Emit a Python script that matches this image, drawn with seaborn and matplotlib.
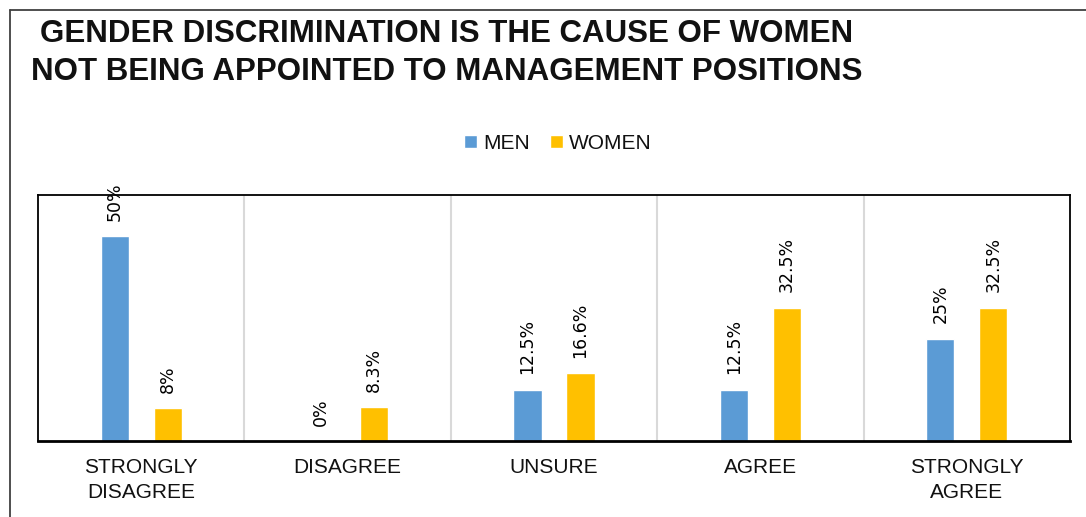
import pandas as pd
import matplotlib
matplotlib.use("Agg")
import matplotlib.pyplot as plt
import seaborn as sns
from matplotlib.lines import Line2D

# Chart data
categories = ["STRONGLY\nDISAGREE", "DISAGREE", "UNSURE", "AGREE", "STRONGLY\nAGREE"]
groups = ["MEN", "WOMEN"]
men_values = [50, 0, 12.5, 12.5, 25]
women_values = [8, 8.3, 16.6, 32.5, 32.5]
men_labels = ["50%", "0%", "12.5%", "12.5%", "25%"]
women_labels = ["8%", "8.3%", "16.6%", "32.5%", "32.5%"]
colors = ["#5B9BD5", "#FFC000"]
title = "GENDER DISCRIMINATION IS THE CAUSE OF WOMEN\nNOT BEING APPOINTED TO MANAGEMENT POSITIONS"

df = pd.DataFrame({
    "response": categories * 2,
    "gender": [groups[0]] * len(categories) + [groups[1]] * len(categories),
    "pct": men_values + women_values,
})

sns.set_style("white")
plt.rcParams["font.family"] = ["Liberation Sans", "DejaVu Sans"]
plt.rcParams["text.color"] = "black"
plt.rcParams["xtick.color"] = "black"

fig = plt.figure(figsize=(10.86, 5.17), dpi=100)
ax = fig.add_axes([38 / 1086, 76 / 517, 1032 / 1086, 246 / 517])

sns.barplot(data=df, x="response", y="pct", hue="gender", palette=colors,
            saturation=1, width=0.514, gap=0.47, ax=ax, legend=True)

ax.set_ylim(0, 60)
ax.set_xlim(-0.5, len(categories) - 0.5)
ax.set_xlabel("")
ax.set_ylabel("")
ax.set_yticks([])

# category separators
for i in range(len(categories) - 1):
    ax.axvline(i + 0.5, color="#D9D9D9", lw=1.5, zorder=0)

for side in ["left", "right", "top"]:
    ax.spines[side].set_color("black")
    ax.spines[side].set_linewidth(1.3)
ax.spines["bottom"].set_color("black")
ax.spines["bottom"].set_linewidth(2)

ax.tick_params(axis="x", length=0, pad=12, labelcolor="#111111")
for lbl in ax.get_xticklabels():
    lbl.set_fontsize(15)
    lbl.set_linespacing(1.45)

# data labels
for cont, labs in zip(ax.containers, [men_labels, women_labels]):
    ax.bar_label(cont, labels=labs, rotation=90, padding=11, fontsize=12.5,
                 family=["DejaVu Sans"], color="black")

# legend
ax.legend(loc="center", bbox_to_anchor=(558 / 1086, 1 - 143 / 517),
          bbox_transform=fig.transFigure, ncol=2, frameon=False,
          prop={"size": 15}, handlelength=0.6, labelcolor="#111111",
          handleheight=0.6, handletextpad=0.3, columnspacing=1.0)

fig.text(447 / 1086, 1 - 53 / 517, title, ha="center", va="center",
         fontsize=22.5, fontweight="bold", linespacing=1.32, color="#111111")

# outer chart frame
fig.add_artist(Line2D([9.5 / 1086, 9.5 / 1086], [0, 1 - 10 / 517],
                      transform=fig.transFigure, color="#404040", lw=1.3))
fig.add_artist(Line2D([9.5 / 1086, 1], [1 - 10 / 517, 1 - 10 / 517],
                      transform=fig.transFigure, color="#404040", lw=1.3))

fig.savefig("out.png", dpi=100)
